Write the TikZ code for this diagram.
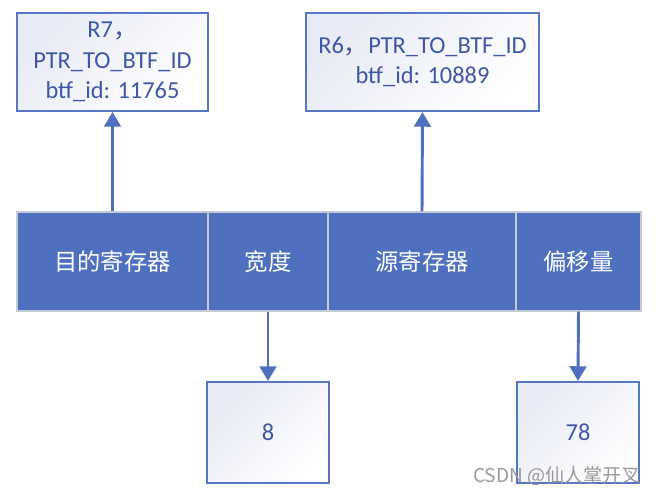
\documentclass[tikz,border=0pt]{standalone}
\usepackage{fontspec}
\setmainfont{Carlito}
\newfontfamily\cjk{Noto Sans CJK SC}
\usetikzlibrary{arrows.meta}
\definecolor{barblue}{RGB}{79,112,190}
\definecolor{edgeblue}{RGB}{88,118,194}
\definecolor{inkblue}{RGB}{62,88,166}
\definecolor{cellline}{RGB}{196,202,216}
\definecolor{boxtint}{RGB}{232,234,245}
\tikzset{
  valbox/.style={draw=edgeblue, line width=1.6pt, top color=boxtint, bottom color=white,
    shading angle=45, text=inkblue, align=center, inner sep=0pt,
    font=\fontsize{18.3}{23}\selectfont},
  fieldcell/.style={draw=cellline, line width=0.8pt, fill=barblue, text=white,
    minimum height=74.25pt, inner sep=0pt, font=\cjk\fontsize{17.5}{20}\selectfont},
  link/.style={draw=barblue, line width=2.2pt, -{Triangle[width=12.5pt,length=11pt]}}
}
\begin{document}
\begin{tikzpicture}[x=0.75pt, y=-0.75pt]
\useasboundingbox (0,0) rectangle (656,498);
\node[valbox, minimum width=143.25pt, minimum height=73.5pt] (dsttype) at (112.5,62) {R7{\cjk ，}\\PTR\_TO\_BTF\_ID\\btf\_id: 11765};
\node[valbox, minimum width=174.75pt, minimum height=73.5pt] (srctype) at (422.5,62) {R6{\cjk ，}PTR\_TO\_BTF\_ID\\btf\_id: 10889};

\node[fieldcell, minimum width=143.25pt] (dstreg) at (112.5,261.5) {目的寄存器};
\node[fieldcell, minimum width=90pt] (width) at (268,261.5) {宽度};
\node[fieldcell, minimum width=141pt] (srcreg) at (422,261.5) {源寄存器};
\node[fieldcell, minimum width=93.75pt] (offset) at (578.5,261.5) {偏移量};

\node[valbox, minimum width=91.5pt, minimum height=75.75pt] (widthval) at (268,432.5) {8};
\node[valbox, minimum width=91.5pt, minimum height=75.75pt] (offsetval) at (578,432.5) {78};

\draw[link] (dstreg) -- (dsttype);
\draw[link] (srcreg.north) -- (srctype.south);
\draw[link] (width) -- (widthval);
\draw[link] (offset.south) -- (offsetval.north);

\node[text=black!40, font=\cjk\fontsize{14.3}{16}\selectfont, anchor=east, inner sep=0pt] (mark) at (641,476) {CSDN @仙人掌开叉};
\end{tikzpicture}
\end{document}
